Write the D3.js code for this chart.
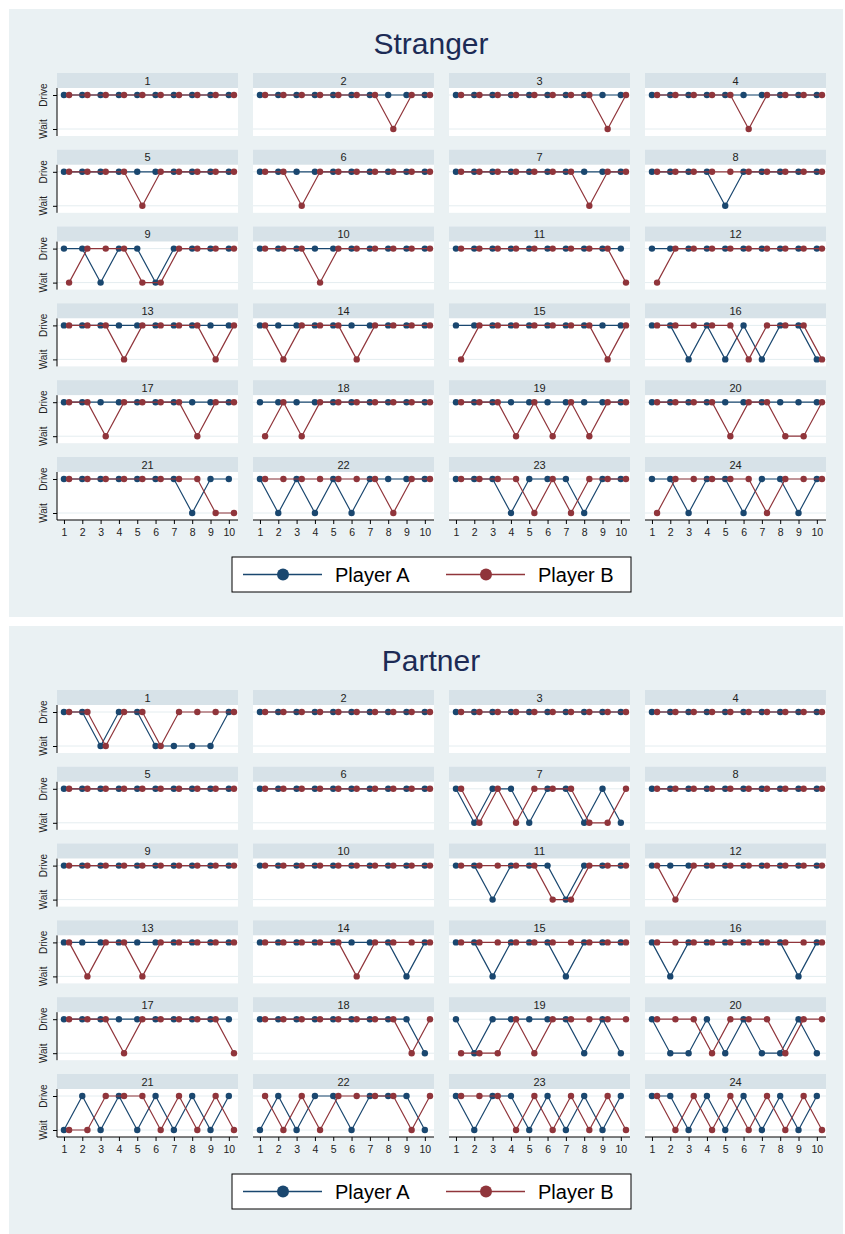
<!DOCTYPE html>
<html><head><meta charset="utf-8">
<script src="https://cdn.jsdelivr.net/npm/d3@7/dist/d3.min.js"></script>
<style>body{margin:0;background:#fff} svg{display:block}</style>
</head><body><svg id="c" width="845" height="1234"></svg>
<script>
// ---------- DATA ----------
const rounds = [1,2,3,4,5,6,7,8,9,10];
const choiceLabels = ["Wait","Drive"];          // W = 0, D = 1
const treatments = ["Stranger","Partner"];
const players = ["Player A","Player B"];
const pairIds = d3.range(1,25);

const strangerA = [
"DDDDDDDDDD","DDDDDDDDDD","DDDDDDDDDD","DDDDDDDDDD",
"DDDDDDDDDD","DDDDDDDDDD","DDDDDDDDDD","DDDDWDDDDD",
"DDWDDWDDDD","DDDDDDDDDD","DDDDDDDDDD","DDDDDDDDDD",
"DDDDDDDDDD","DDDDDDDDDD","DDDDDDDDDD","DDWDWDWDDW",
"DDDDDDDDDD","DDDDDDDDDD","DDDDDDDDDD","DDDDDDDDDD",
"DDDDDDDWDD","DWDWDWDDDD","DDDWDDDWDD","DDWDDWDDWD"
];
const strangerB = [
"DDDDDDDDDD","DDDDDDDWDD","DDDDDDDDWD","DDDDDWDDDD",
"DDDDWDDDDD","DDWDDDDDDD","DDDDDDDWDD","DDDDDDDDDD",
"WDDDWWDDDD","DDDWDDDDDD","DDDDDDDDDW","WDDDDDDDDD",
"DDDWDDDDWD","DWDDDWDDDD","WDDDDDDDWD","DDDDDWDDDW",
"DDWDDDDWDD","WDWDDDDDDD","DDDWDWDWDD","DDDDWDDWWD",
"DDDDDDDDWW","DDDDDDDWDD","DDDDWDWDDD","WDDDDDWDDD"
];
const partnerA = [
"DDWDDWWWWD","DDDDDDDDDD","DDDDDDDDDD","DDDDDDDDDD",
"DDDDDDDDDD","DDDDDDDDDD","DWDDWDDWDW","DDDDDDDDDD",
"DDDDDDDDDD","DDDDDDDDDD","DDWDDDWDDD","DDDDDDDDDD",
"DDDDDDDDDD","DDDDDDDDWD","DDWDDDWDDD","DWDDDDDDWD",
"DDDDDDDDDD","DDDDDDDDDW","DWDDDDDWDW","DWWDWDWWDW",
"WDWDWDWDWD","WDWDDWDDDW","DWDDWDWDWD","DDWDWDWDWD"
];
const partnerB = [
"DDWDDWDDDD","DDDDDDDDDD","DDDDDDDDDD","DDDDDDDDDD",
"DDDDDDDDDD","DDDDDDDDDD","DWDWDDDWWD","DDDDDDDDDD",
"DDDDDDDDDD","DDDDDDDDDD","DDDDDWWDDD","DWDDDDDDDD",
"DWDDWDDDDD","DDDDDWDDDD","DDDDDDDDDD","DDDDDDDDDD",
"DDDWDDDDDW","DDDDDDDDWD","WWWDWDDDDD","DDDWDDDWDD",
"WWDDDWDWDW","DWDWDDDDWD","DDDWDWDWDW","DWDWDWDWDW"
];

// ---------- STYLE / LAYOUT ----------
const colA = "#1a476f", colB = "#90353b";
const bgCol = "#eaf1f3", stripCol = "#d7e2e8", gridCol = "#e4edf0";
const font = "'Liberation Sans', Arial, Helvetica, sans-serif";
const sectionTops = [9, 626];
const colLeft0 = 57, colPitch = 196, panelW = 181;
const headerTop0 = 64, rowPitch = 76.8, headerH = 15, plotH = 48;
const offsetB = 0.28;

const svg = d3.select("#c");
const x = d3.scaleLinear().domain([0.62, 10.5]).range([0, panelW]);
const y = d3.scaleLinear().domain([0, 1]).range([41, 7]);
const toVal = s => s.split("").map(c => c === "D" ? 1 : 0);

const groups = [[strangerA, strangerB], [partnerA, partnerB]];

treatments.forEach((tr, ti) => {
  const top = sectionTops[ti];
  const sec = svg.append("g").attr("transform", `translate(0,${top})`);
  sec.append("rect").attr("x", 9).attr("y", 0).attr("width", 834).attr("height", 608).attr("fill", bgCol);
  sec.append("text").attr("x", 431).attr("y", 45).attr("text-anchor", "middle")
    .attr("font-family", font).attr("font-size", 30).attr("fill", "#1c2b55").text(tr);

  const [dA, dB] = groups[ti];
  pairIds.forEach((pid, i) => {
    const r = Math.floor(i / 4), c = i % 4;
    const px = colLeft0 + c * colPitch;
    const hy = headerTop0 + r * rowPitch;
    const g = sec.append("g").attr("transform", `translate(${px},${hy})`);
    g.append("rect").attr("width", panelW).attr("height", headerH).attr("fill", stripCol);
    g.append("text").attr("x", panelW / 2).attr("y", 11.5).attr("text-anchor", "middle")
      .attr("font-family", font).attr("font-size", 11).attr("fill", "#222").text(pid);
    const p = g.append("g").attr("transform", `translate(0,${headerH})`);
    p.append("rect").attr("width", panelW).attr("height", plotH).attr("fill", "#fff");
    [0, 1].forEach(v => p.append("line").attr("x1", 0).attr("x2", panelW)
      .attr("y1", y(v)).attr("y2", y(v)).attr("stroke", gridCol).attr("stroke-width", 1));

    if (c === 0) {
      const ya = p.append("g").call(d3.axisLeft(y).tickValues([0, 1]).tickSize(4).tickFormat(""));
      ya.select(".domain").attr("d", `M0,0V${plotH}`).attr("stroke", "#000");
      ya.selectAll(".tick line").attr("stroke", "#000");
      [0, 1].forEach(v => p.append("text")
        .attr("transform", `translate(-10,${y(v)}) rotate(-90)`)
        .attr("text-anchor", "middle").attr("font-family", font).attr("font-size", 10)
        .attr("fill", "#222").text(choiceLabels[v]));
    }
    if (r === 5) {
      const xa = p.append("g").attr("transform", `translate(0,${plotH})`)
        .call(d3.axisBottom(x).tickValues(rounds).tickSize(4).tickFormat(d3.format("d")));
      xa.select(".domain").attr("d", `M0,0H${panelW}`).attr("stroke", "#000");
      xa.selectAll(".tick line").attr("stroke", "#000");
      xa.selectAll(".tick text").attr("font-family", font).attr("font-size", 10.5)
        .attr("fill", "#222").attr("dy", "0.9em");
    }

    [[toVal(dA[i]), colA, 0], [toVal(dB[i]), colB, offsetB]].forEach(([vals, col, off]) => {
      const pts = vals.map((v, k) => [rounds[k] + off, v]);
      p.append("path").attr("d", d3.line().x(d => x(d[0])).y(d => y(d[1]))(pts))
        .attr("fill", "none").attr("stroke", col).attr("stroke-width", 1.2);
      p.selectAll(null).data(pts).enter().append("circle")
        .attr("cx", d => x(d[0])).attr("cy", d => y(d[1])).attr("r", 3.2).attr("fill", col);
    });
  });

  // legend
  const lg = sec.append("g").attr("transform", `translate(232,548)`);
  lg.append("rect").attr("width", 399).attr("height", 35).attr("fill", "#fff")
    .attr("stroke", "#000").attr("stroke-width", 1);
  players.forEach((pl, k) => {
    const lx = 11 + k * 203, col = k === 0 ? colA : colB;
    lg.append("line").attr("x1", lx).attr("x2", lx + 79).attr("y1", 17.5).attr("y2", 17.5)
      .attr("stroke", col).attr("stroke-width", 1.4);
    lg.append("circle").attr("cx", lx + 40).attr("cy", 17.5).attr("r", 6).attr("fill", col);
    lg.append("text").attr("x", lx + 92).attr("y", 24.5).attr("font-family", font)
      .attr("font-size", 20).attr("fill", "#000").text(pl);
  });
});
</script></body></html>
